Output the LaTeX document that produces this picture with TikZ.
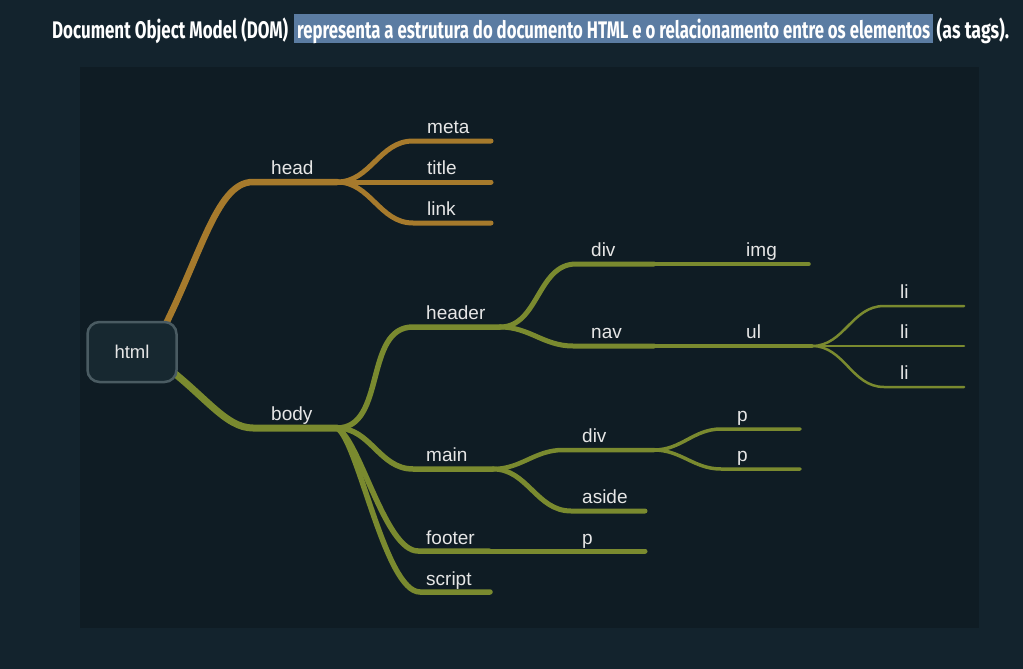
\documentclass[tikz,border=0pt]{standalone}
\usepackage{fontspec}
\setmainfont{Liberation Sans}
\newfontfamily\titlefont{Fira Sans}
\usetikzlibrary{positioning,backgrounds}
\definecolor{pagebg}{HTML}{13232D}
\definecolor{panelbg}{HTML}{0F1C24}
\definecolor{headcol}{HTML}{A67A2C}
\definecolor{bodycol}{HTML}{7A8A2F}
\definecolor{boxfill}{HTML}{172830}
\definecolor{boxline}{HTML}{4A5B62}
\definecolor{markfill}{HTML}{5B7CA2}
\definecolor{labeltxt}{HTML}{E6E6E6}
\tikzset{
    tag/.style={anchor=base west, inner sep=0pt, text=labeltxt, font=\fontsize{19}{19}\selectfont},
    headline/.style={draw=headcol, line cap=round, line width=#1},
    headline/.default=5pt,
    bodyline/.style={draw=bodycol, line cap=round, line width=#1},
    bodyline/.default=5.5pt,
    root/.style={draw=boxline, fill=boxfill, line width=2.5pt, rounded corners=12pt,
        minimum width=89pt, minimum height=60pt, text=labeltxt, font=\fontsize{18.5}{18.5}\selectfont},
    titletxt/.style={anchor=base west, inner sep=0pt, text=white, font=\titlefont\bfseries\fontsize{24}{24}\selectfont}
}
\begin{document}
\begin{tikzpicture}[x=1pt, y=-1pt]
        \useasboundingbox (0, 0) rectangle (1023, 669);
        \node [titletxt] (dom) at (52, 38.3) {\resizebox{236pt}{\height}{Document Object Model (DOM)}};
        \node [titletxt, fill=markfill, inner xsep=3pt, text height=24.3pt, text depth=5pt] (mark) at (294, 38.3)
            {\resizebox{633pt}{\height}{representa a estrutura do documento HTML e o relacionamento entre os elementos}};
        \node [titletxt] (tags) at (936.5, 38.3) {\resizebox{72.5pt}{\height}{(as tags).}};
        \node [root] (html) at (132, 352) {html};
        \coordinate (head0) at (253, 182);
        \coordinate (head1) at (337, 182);
        \coordinate (meta0) at (413, 141);
        \coordinate (meta1) at (491, 141);
        \coordinate (title1) at (491, 182);
        \coordinate (link0) at (413, 223);
        \coordinate (link1) at (491, 223);
        \coordinate (body0) at (253, 428);
        \coordinate (body1) at (337, 428);
        \coordinate (header0) at (413, 327);
        \coordinate (header1) at (500, 327);
        \coordinate (hdiv0) at (576, 264);
        \coordinate (hdiv1) at (654, 264);
        \coordinate (img1) at (809, 264);
        \coordinate (nav0) at (573, 346);
        \coordinate (nav1) at (654, 346);
        \coordinate (ul1) at (812, 346);
        \coordinate (main0) at (413, 469);
        \coordinate (main1) at (493, 469);
        \coordinate (mdiv0) at (563, 450);
        \coordinate (mdiv1) at (654, 450);
        \coordinate (aside0) at (571, 511);
        \coordinate (aside1) at (645, 511);
        \coordinate (footer0) at (418, 551);
        \coordinate (footer1) at (489, 551);
        \coordinate (fp1) at (645, 551);
        \coordinate (script0) at (420, 592);
        \coordinate (script1) at (490, 592);
        \begin{scope}[on background layer]
            \fill [pagebg] (0, 0) rectangle (1023, 669);
            \fill [panelbg] (80, 67) rectangle (979, 628);
            \draw [headline=6.5pt] (155, 345) .. controls (200, 262) and (215, 182) .. (head0) -- (head1);
            \draw [headline] (head1) to [out=0, in=180] (meta0) -- (meta1);
            \draw [headline] (head1) -- (title1);
            \draw [headline] (head1) to [out=0, in=180] (link0) -- (link1);
            \draw [bodyline=7pt] (160, 362) .. controls (205, 395) and (225, 428) .. (body0) -- (body1);
            \draw [bodyline] (body1) to [out=0, in=180] (header0) -- (header1);
            \draw [bodyline=5pt] (header1) to [out=0, in=180] (hdiv0) -- (hdiv1);
            \draw [bodyline=3.5pt] (hdiv1) -- (img1);
            \draw [bodyline=5pt] (header1) to [out=0, in=180] (nav0) -- (nav1);
            \draw [bodyline=3.5pt] (nav1) -- (ul1);
            \foreach \y/\n in {306/1, 346/2, 387/3} {
                \coordinate (li\n) at (884, \y);
                \draw [bodyline=2.5pt] (ul1) to [out=0, in=180] (li\n) -- (964, \y);
            }
            \draw [bodyline] (body1) to [out=0, in=180] (main0) -- (main1);
            \draw [bodyline=4.5pt] (main1) to [out=0, in=180] (mdiv0) -- (mdiv1);
            \foreach \y/\n in {429/1, 469/2} {
                \coordinate (p\n) at (721, \y);
                \draw [bodyline=3.5pt] (mdiv1) to [out=0, in=180] (p\n) -- (800, \y);
            }
            \draw [bodyline=5pt] (main1) to [out=0, in=180] (aside0) -- (aside1);
            \draw [bodyline] (body1) .. controls (360, 440) and (385, 551) .. (footer0) -- (footer1);
            \draw [bodyline=5pt] (footer1) -- (fp1);
            \draw [bodyline] (body1) .. controls (358, 440) and (385, 592) .. (script0) -- (script1);
        \end{scope}
        \node [tag] (headtxt) at (271, 174) {head};
        \node [tag] (metatxt) at (427, 133) {meta};
        \node [tag] (titletxt) at (427, 174) {title};
        \node [tag] (linktxt) at (427, 215) {link};
        \node [tag] (bodytxt) at (271, 420) {body};
        \node [tag] (headertxt) at (426, 319) {header};
        \node [tag] (hdivtxt) at (591, 256) {div};
        \node [tag] (imgtxt) at (746, 256) {img};
        \node [tag] (navtxt) at (591, 338) {nav};
        \node [tag] (ultxt) at (746, 338) {ul};
        \foreach \y/\n in {298/1, 338/2, 379/3}
            \node [tag] (litxt\n) at (900, \y) {li};
        \node [tag] (maintxt) at (426, 461) {main};
        \node [tag] (mdivtxt) at (582, 442) {div};
        \node [tag] (ptxt1) at (737, 421) {p};
        \node [tag] (ptxt2) at (737, 461) {p};
        \node [tag] (asidetxt) at (582, 503) {aside};
        \node [tag] (footertxt) at (426, 544) {footer};
        \node [tag] (fptxt) at (582, 544) {p};
        \node [tag] (scripttxt) at (426, 585) {script};
    \end{tikzpicture}
\end{document}
